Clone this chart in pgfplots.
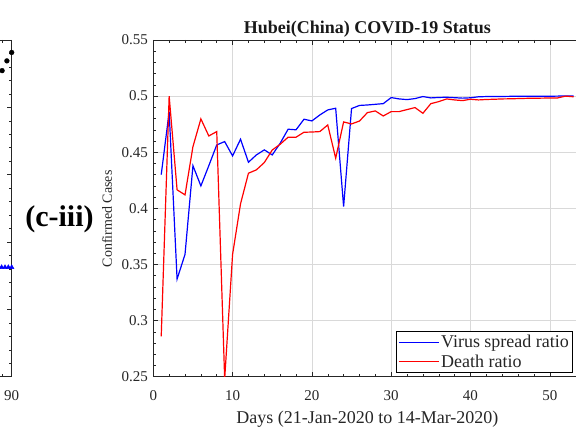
\documentclass[border=0pt]{standalone}
\usepackage{fontspec}
\setmainfont{Liberation Serif}
\usepackage{pgfplots}
\pgfplotsset{compat=1.18}

\pgfplotstableread{
d v
1 0.430
2 0.486
3 0.337
4 0.359
5 0.438
6 0.420
7 0.438
8 0.4565
9 0.4595
10 0.4467
11 0.4616
12 0.4411
13 0.4476
14 0.4521
15 0.4476
16 0.4580
17 0.4705
18 0.4700
19 0.4794
20 0.4779
21 0.4832
22 0.4877
23 0.4892
24 0.4016
25 0.4889
26 0.4917
27 0.4921
28 0.4927
29 0.4933
30 0.4987
31 0.4975
32 0.4969
33 0.4978
34 0.4996
35 0.4984
36 0.4988
37 0.4990
38 0.4986
39 0.4982
40 0.4985
41 0.4994
42 0.4996
43 0.4997
44 0.4997
45 0.4998
46 0.4998
47 0.4998
48 0.4999
49 0.4999
50 0.4999
51 0.5000
52 0.5002
53 0.5001
}\spreadtable

\pgfplotstableread{
d v
1 0.286
2 0.500
3 0.4165
4 0.4120
5 0.4550
6 0.4797
7 0.4645
8 0.4684
9 0.2480
10 0.3590
11 0.4040
12 0.4313
13 0.4343
14 0.4408
15 0.4520
16 0.4571
17 0.4634
18 0.4634
19 0.4678
20 0.4680
21 0.4684
22 0.4743
23 0.4447
24 0.4770
25 0.4752
26 0.4778
27 0.4853
28 0.4868
29 0.4823
30 0.4862
31 0.4862
32 0.4880
33 0.4898
34 0.4847
35 0.4933
36 0.4951
37 0.4975
38 0.4966
39 0.4960
40 0.4972
41 0.4966
42 0.4970
43 0.4972
44 0.4975
45 0.4976
46 0.4978
47 0.4980
48 0.4981
49 0.4982
50 0.4983
51 0.4984
52 0.5000
53 0.4994
}\deathtable

\begin{document}
\begin{tikzpicture}
\pgfplotsset{
  matstyle/.style={
    scale only axis,
    axis line style={black!85, line width=0.6bp},
    tick style={black!85, line width=0.5bp},
    tick align=inside,
    major tick length=5bp,
    minor tick length=3bp,
    ticklabel style={font=\fontsize{15bp}{17bp}\selectfont, text=black!85},
    /pgf/number format/assume math mode=true,
    xticklabel={\pgfmathprintnumber{\tick}},
    yticklabel={\pgfmathprintnumber{\tick}},
    xticklabel style={yshift=-10bp},
    yticklabel style={xshift=-2bp},
  }
}
% fragment of neighbouring panel
\begin{axis}[
  matstyle,
  at={(11.7bp,56.3bp)}, anchor=south east,
  width=432bp, height=336.7bp,
  xmin=0, xmax=90, ymin=0, ymax=1,
  xtick={0,10,...,90},
  xticklabels={,,,,,,,,,90},
  ytick={0,0.2,...,1},
  yticklabels={},
  minor y tick num=4,
  minor x tick num=4,
]
\addplot[only marks, mark=*, mark size=2.4bp, black] coordinates {
(88,0.909) (89,0.938) (90,0.963)};
\addplot[only marks, mark=triangle*, mark size=2.6bp, blue] coordinates {
(85.8,0.325) (86.5,0.325) (87.2,0.325) (87.9,0.325) (88.6,0.325) (89.3,0.325) (90,0.325)};
\end{axis}

\begin{axis}[
  matstyle,
  at={(153.3bp,56.3bp)}, anchor=south west,
  width=428.2bp, height=336.7bp,
  xmin=0, xmax=54, ymin=0.25, ymax=0.55,
  xtick={0,10,...,50},
  ytick={0.25,0.3,0.35,0.4,0.45,0.5,0.55},
  minor x tick num=4,
  minor y tick num=4,
  grid=major,
  major grid style={black!15, line width=0.5bp},
  title={Hubei(China) COVID-19 Status},
  title style={font=\bfseries\fontsize{18bp}{20bp}\selectfont, text=black!90, yshift=-7bp},
  xlabel={Days (21-Jan-2020 to 14-Mar-2020)},
  xlabel style={font=\fontsize{18bp}{20bp}\selectfont, text=black!85, at={(axis description cs:0.5,-0.125)}, anchor=center},
  ylabel={Confirmed Cases},
  ylabel style={font=\fontsize{14bp}{16bp}\selectfont, text=black!85, at={(axis description cs:-0.108,0.469)}, anchor=center},
  legend style={at={(axis description cs:0.567,0.011)}, anchor=south west,
    draw=black, line width=0.6bp, fill=white,
    font=\fontsize{18bp}{20bp}\selectfont, text=black!85,
    inner xsep=2bp, inner ysep=2.5bp, row sep=2.5bp,
    nodes={inner sep=1.5bp}},
  legend cell align=left,
  legend image code/.code={\draw[#1, line width=1.2bp] (0bp,0bp) -- (40bp,0bp);},
]
\addplot[blue, line width=1.2bp] table[x=d, y=v] {\spreadtable};
\addlegendentry{Virus spread ratio}
\addplot[red, line width=1.2bp] table[x=d, y=v] {\deathtable};
\addlegendentry{Death ratio}
\end{axis}

\node[font=\bfseries\fontsize{30bp}{32bp}\selectfont, inner sep=0pt] at (59.5bp,214bp) {(c-iii)};

\pgfresetboundingbox
\path[use as bounding box] (0bp,0bp) rectangle (576bp,433bp);
\end{tikzpicture}
\end{document}
